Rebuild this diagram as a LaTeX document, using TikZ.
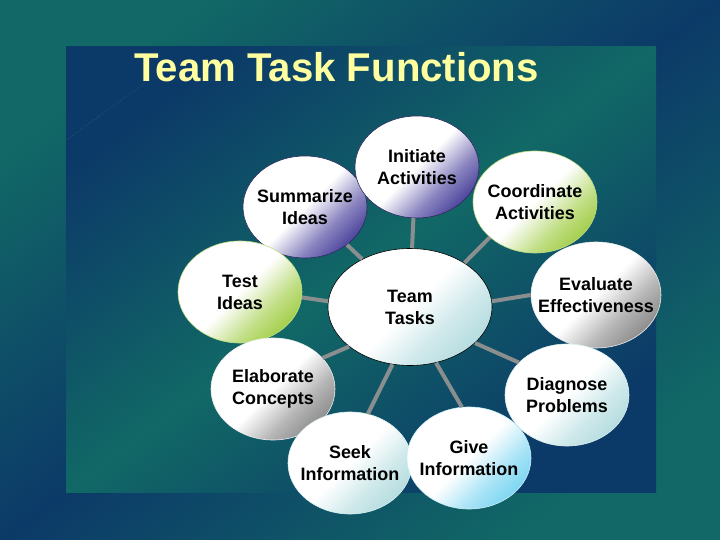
\documentclass[tikz,border=0pt]{standalone}
\usepackage{fontspec}
\setmainfont{Liberation Sans}
\usetikzlibrary{shapes.geometric}

\definecolor{deepblue}{HTML}{0C3A68}
\definecolor{seateal}{HTML}{116866}
\definecolor{titleyellow}{HTML}{FFFFA0}
\definecolor{spokegray}{HTML}{8A8E8E}
\definecolor{bubpurple}{HTML}{4E469E}
\definecolor{bubgreen}{HTML}{A4CF4C}
\definecolor{bubgrey}{HTML}{8E8E8E}
\definecolor{bubaqua}{HTML}{B6DDE0}
\definecolor{bubcyan}{HTML}{7ED6F2}
\colorlet{bubblecol}{white}

% white bubble, colour pushed into the lower right
\pgfdeclareverticalshading[bubblecol]{bubshade}{100bp}{color(0bp)=(bubblecol); color(25bp)=(bubblecol); color(36bp)=(bubblecol!65!white); color(50bp)=(white); color(100bp)=(white)}

\tikzstyle{every node}=[font=\bfseries\fontsize{18}{22}\selectfont,align=center]
\tikzstyle{bubble}=[ellipse,inner sep=-25pt,minimum width=124bp,minimum height=102bp,line width=0.6bp,shading=bubshade,shading angle=45]
\tikzstyle{bluebub}=[bubble,draw=bubpurple!60!black,/utils/exec={\colorlet{bubblecol}{bubpurple}}]
\tikzstyle{greenbub}=[bubble,draw=bubgreen!70!white,/utils/exec={\colorlet{bubblecol}{bubgreen}}]
\tikzstyle{greybub}=[bubble,draw=white!85!gray,/utils/exec={\colorlet{bubblecol}{bubgrey}}]
\tikzstyle{aquabub}=[bubble,draw=bubaqua!50!white,/utils/exec={\colorlet{bubblecol}{bubaqua}}]
\tikzstyle{cyanbub}=[bubble,draw=bubcyan!40!white,/utils/exec={\colorlet{bubblecol}{bubcyan}}]
\tikzstyle{hubbub}=[bubble,draw=black,minimum width=164bp,minimum height=117bp,/utils/exec={\colorlet{bubblecol}{bubaqua}}]
\tikzstyle{spoke}=[draw=spokegray,line width=4bp]
\tikzstyle{titletext}=[font=\bfseries\fontsize{40.3}{44}\selectfont,text=titleyellow,anchor=base]

\begin{document}
\begin{tikzpicture}[x=1bp,y=-1bp]
	\useasboundingbox (0,0) rectangle (720,540);
	% backdrop and panel
	\shade[top color=seateal,bottom color=seateal,middle color=deepblue,shading angle=37] (0,0) rectangle (720,540);
	\shade[top color=deepblue,bottom color=deepblue,middle color=seateal,shading angle=37] (66,47) rectangle (656,492);
	\draw[white,opacity=0.25,line width=0.5bp,dotted] (66,140) -- (145,83);

	\node[titletext] (title) at (336.5,82) {Team Task Functions};

	\node[bluebub] (summ) at (305,207) {Summarize\\Ideas};
	\node[bluebub] (init) at (417,167) {Initiate\\Activities};
	\node[greenbub] (coord) at (535,202) {Coordinate\\Activities};
	\node[greybub,minimum width=130bp,minimum height=106bp] (eval) at (596,295) {Evaluate\\Effectiveness};
	\node[aquabub] (diag) at (567,395) {Diagnose\\Problems};
	\node[greenbub] (test) at (240,292) {Test\\Ideas};
	\node[greybub] (elab) at (273,389) {Elaborate\\Concepts};
	\node[aquabub] (seek) at (350,463) {Seek\\Information};
	\node[cyanbub] (give) at (469,458) {Give\\Information};
	\node[hubbub] (tasks) at (410,307) {Team\\Tasks};

	\foreach \a/\n/\b in {88/init/-94,135/summ/-42,39/coord/-142,4/eval/180,176/test/-5,213.5/elab/32,-29/diag/146,-107/seek/70,-65/give/98}
		\draw[spoke] (tasks.\a) -- (\n.\b);
\end{tikzpicture}
\end{document}
